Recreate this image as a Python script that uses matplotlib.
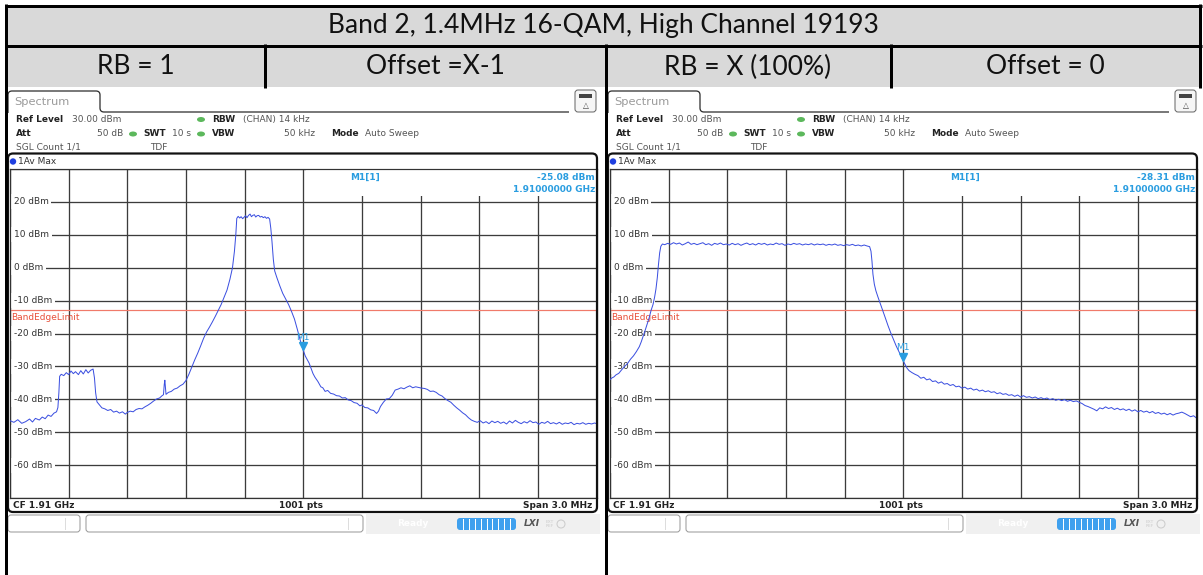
import matplotlib
matplotlib.use("Agg")
import matplotlib.pyplot as plt
import matplotlib.transforms as mtransforms
from matplotlib.patches import Rectangle, FancyBboxPatch, Ellipse, Circle, PathPatch
from matplotlib.path import Path

# ---------------------------------------------------------------- data
title = "Band 2, 1.4MHz 16-QAM, High Channel 19193"
column_headers = ["RB = 1", "Offset =X-1", "RB = X (100%)", "Offset = 0"]

level_ticks = [20, 10, 0, -10, -20, -30, -40, -50, -60]   # dBm labels
band_edge_limit = -13.0                                    # dBm
marker_levels = [-25.08, -28.31]                           # M1 readouts, dBm
marker_freq = "1.91000000 GHz"

# offset from CF 1.91 GHz in MHz, trace level in dBm  (RB = 1, offset X-1)
freq_rb1 = [
    -1.500, -1.480, -1.460, -1.440, -1.420, -1.400, -1.385, -1.370, -1.350, -1.335,
    -1.320, -1.305, -1.290, -1.275, -1.262, -1.255, -1.250, -1.246, -1.238, -1.225,
    -1.212, -1.200, -1.188, -1.176, -1.165, -1.150, -1.138, -1.125, -1.112, -1.100,
    -1.088, -1.075, -1.068, -1.062, -1.055, -1.045, -1.030, -1.015, -1.000, -0.985,
    -0.970, -0.955, -0.940, -0.925, -0.910, -0.900, -0.885, -0.870, -0.855, -0.840,
    -0.825, -0.810, -0.795, -0.780, -0.765, -0.750, -0.735, -0.722, -0.715, -0.711,
    -0.708, -0.705, -0.702, -0.690, -0.675, -0.660, -0.645, -0.630, -0.615, -0.600,
    -0.585, -0.570, -0.555, -0.540, -0.525, -0.510, -0.495, -0.480, -0.465, -0.450,
    -0.435, -0.420, -0.405, -0.390, -0.375, -0.362, -0.352, -0.345, -0.340, -0.333,
    -0.325, -0.318, -0.310, -0.302, -0.295, -0.288, -0.280, -0.272, -0.265, -0.258,
    -0.250, -0.243, -0.236, -0.228, -0.220, -0.212, -0.204, -0.196, -0.188, -0.180,
    -0.172, -0.166, -0.160, -0.153, -0.146, -0.135, -0.120, -0.105, -0.090, -0.075,
    -0.060, -0.045, -0.030, -0.018, -0.008, 0.000, 0.010, 0.020, 0.030, 0.040,
    0.050, 0.060, 0.075, 0.090, 0.100, 0.112, 0.125, 0.140, 0.155, 0.170,
    0.185, 0.200, 0.215, 0.230, 0.245, 0.260, 0.275, 0.290, 0.300, 0.315,
    0.330, 0.345, 0.360, 0.375, 0.385, 0.395, 0.410, 0.425, 0.440, 0.455,
    0.470, 0.485, 0.500, 0.515, 0.530, 0.545, 0.560, 0.575, 0.590, 0.605,
    0.620, 0.635, 0.650, 0.665, 0.680, 0.695, 0.710, 0.725, 0.740, 0.755,
    0.770, 0.785, 0.800, 0.815, 0.830, 0.845, 0.860, 0.875, 0.890, 0.905,
    0.920, 0.935, 0.950, 0.965, 0.980, 0.995, 1.010, 1.025, 1.040, 1.055,
    1.070, 1.085, 1.100, 1.115, 1.130, 1.145, 1.160, 1.175, 1.190, 1.205,
    1.220, 1.235, 1.250, 1.265, 1.280, 1.295, 1.310, 1.325, 1.340, 1.355,
    1.370, 1.385, 1.400, 1.415, 1.430, 1.445, 1.460, 1.475, 1.490, 1.500,
]
level_rb1 = [
    -46.5, -47.0, -46.2, -47.3, -46.8, -46.0, -46.9, -45.8, -46.3, -45.4,
    -45.9, -44.8, -45.2, -44.2, -43.8, -42.5, -38.0, -33.0, -32.4, -32.8,
    -31.9, -32.5, -31.4, -32.2, -31.6, -32.5, -31.3, -32.3, -31.0, -32.0,
    -31.2, -30.8, -33.5, -38.0, -40.8, -41.5, -42.6, -42.9, -43.4, -43.1,
    -43.9, -43.6, -44.2, -43.8, -44.5, -44.0, -43.6, -43.8, -43.1, -42.8,
    -42.9, -42.3, -41.8, -41.2, -40.5, -39.9, -39.6, -38.9, -38.6, -35.5,
    -34.2, -36.5, -38.5, -37.9, -37.6, -36.9, -36.6, -35.9, -35.4, -34.3,
    -32.4, -30.2, -28.0, -26.0, -23.8, -21.5, -19.6, -18.1, -16.5, -14.8,
    -13.0, -11.2, -9.0, -6.8, -3.5, 0.0, 5.0, 10.0, 15.0, 15.6,
    15.1, 15.5, 14.9, 15.4, 15.8, 15.2, 15.9, 16.3, 15.5, 15.9,
    16.1, 15.4, 15.8, 15.9, 15.4, 15.6, 15.2, 15.5, 15.0, 15.3,
    14.8, 12.0, 8.0, 2.5, -1.0, -3.0, -5.5, -7.8, -9.5, -11.2,
    -13.3, -15.6, -18.8, -21.5, -23.6, -25.08, -26.8, -27.9, -29.0, -30.6,
    -32.2, -33.3, -34.6, -36.2, -36.5, -37.6, -37.3, -38.2, -38.4, -38.9,
    -39.0, -39.6, -39.5, -40.2, -40.4, -41.0, -41.2, -42.0, -41.7, -42.5,
    -42.6, -43.2, -43.4, -44.3, -43.6, -42.2, -40.9, -39.9, -39.8, -38.8,
    -37.2, -36.9, -36.5, -36.8, -36.3, -35.9, -36.5, -36.2, -36.4, -36.6,
    -36.7, -37.0, -37.6, -37.5, -37.9, -38.6, -39.0, -39.8, -40.4, -40.9,
    -41.8, -42.6, -43.3, -44.1, -44.7, -45.6, -46.3, -46.7, -47.0, -46.5,
    -47.2, -46.8, -47.4, -46.6, -47.1, -46.7, -47.3, -46.9, -47.5, -46.6,
    -47.2, -46.4, -47.0, -47.4, -46.8, -47.2, -46.5, -47.1, -46.9, -47.6,
    -47.0, -47.3, -46.7, -47.4, -47.1, -47.5, -47.0, -47.6, -47.2, -47.4,
    -47.0, -47.7, -47.3, -47.5, -47.1, -47.6, -47.3, -47.5, -47.2, -47.4,
]

# offset from CF 1.91 GHz in MHz, trace level in dBm  (RB = X, offset 0)
freq_full = [
    -1.500, -1.490, -1.480, -1.470, -1.455, -1.440, -1.425, -1.410, -1.395, -1.380,
    -1.365, -1.350, -1.340, -1.330, -1.320, -1.310, -1.300, -1.290, -1.280, -1.272,
    -1.265, -1.258, -1.252, -1.246, -1.240, -1.232, -1.220, -1.205, -1.190, -1.175,
    -1.160, -1.145, -1.130, -1.115, -1.100, -1.085, -1.070, -1.055, -1.040, -1.025,
    -1.010, -0.995, -0.980, -0.965, -0.950, -0.935, -0.920, -0.905, -0.890, -0.875,
    -0.860, -0.845, -0.830, -0.815, -0.800, -0.785, -0.770, -0.755, -0.740, -0.725,
    -0.710, -0.695, -0.680, -0.665, -0.650, -0.635, -0.620, -0.605, -0.590, -0.575,
    -0.560, -0.545, -0.530, -0.515, -0.500, -0.485, -0.470, -0.455, -0.440, -0.425,
    -0.410, -0.395, -0.380, -0.365, -0.350, -0.335, -0.320, -0.305, -0.290, -0.275,
    -0.260, -0.245, -0.230, -0.215, -0.200, -0.185, -0.172, -0.165, -0.160, -0.155,
    -0.148, -0.140, -0.130, -0.118, -0.105, -0.092, -0.078, -0.064, -0.050, -0.036,
    -0.022, -0.010, 0.000, 0.010, 0.020, 0.030, 0.045, 0.060, 0.075, 0.090,
    0.105, 0.120, 0.135, 0.150, 0.165, 0.180, 0.195, 0.210, 0.225, 0.240,
    0.255, 0.270, 0.285, 0.300, 0.315, 0.330, 0.345, 0.360, 0.375, 0.390,
    0.405, 0.420, 0.435, 0.450, 0.465, 0.480, 0.495, 0.510, 0.525, 0.540,
    0.555, 0.570, 0.585, 0.600, 0.615, 0.630, 0.645, 0.660, 0.675, 0.690,
    0.705, 0.720, 0.735, 0.750, 0.765, 0.780, 0.795, 0.810, 0.825, 0.840,
    0.855, 0.870, 0.885, 0.900, 0.915, 0.930, 0.945, 0.960, 0.975, 0.990,
    1.005, 1.020, 1.035, 1.050, 1.065, 1.080, 1.095, 1.110, 1.125, 1.140,
    1.155, 1.170, 1.185, 1.200, 1.215, 1.230, 1.245, 1.260, 1.275, 1.290,
    1.305, 1.320, 1.335, 1.350, 1.365, 1.380, 1.395, 1.410, 1.425, 1.440,
    1.455, 1.470, 1.485, 1.500,
]
level_full = [
    -34.0, -33.5, -33.2, -32.6, -32.1, -31.0, -30.0, -29.1, -27.8, -26.8,
    -25.5, -24.0, -22.5, -20.8, -19.0, -17.2, -15.3, -13.0, -11.2, -9.0,
    -6.5, -3.0, 1.0, 4.5, 6.5, 7.2, 7.0, 7.4, 7.1, 7.6,
    7.2, 7.5, 6.9, 7.3, 7.8, 7.1, 7.4, 7.0, 7.3, 7.6,
    7.0, 7.3, 6.8, 7.4, 7.1, 7.5, 7.0, 7.2, 6.9, 7.4,
    7.0, 7.3, 6.8, 7.2, 7.5, 7.0, 7.3, 6.9, 7.4, 7.1,
    7.4, 6.9, 7.2, 7.0, 7.5, 7.1, 7.3, 6.8, 7.2, 7.0,
    7.4, 7.1, 7.3, 6.9, 7.2, 7.0, 7.3, 6.9, 7.2, 7.0,
    7.2, 6.8, 7.1, 6.9, 7.2, 6.8, 7.0, 6.7, 7.0, 6.8,
    7.1, 6.7, 6.9, 6.6, 6.9, 6.6, 6.4, 5.0, 2.0, -2.0,
    -5.0, -7.0, -8.8, -10.8, -13.0, -15.2, -17.6, -19.8, -21.8, -23.8,
    -25.5, -27.0, -28.31, -29.5, -30.6, -31.3, -31.9, -32.4, -32.8, -33.6,
    -33.3, -34.1, -33.8, -34.6, -34.4, -35.1, -34.7, -35.4, -35.2, -35.8,
    -35.5, -36.2, -36.0, -36.6, -36.3, -36.9, -36.6, -37.2, -36.9, -37.5,
    -37.2, -37.7, -37.4, -37.9, -37.7, -38.3, -38.0, -38.5, -38.3, -38.8,
    -38.6, -39.1, -38.7, -39.3, -38.9, -39.4, -39.2, -39.6, -39.3, -39.8,
    -39.5, -39.9, -39.6, -40.1, -39.8, -40.3, -40.0, -40.4, -40.1, -40.6,
    -40.3, -40.7, -40.5, -40.9, -41.3, -41.9, -42.2, -42.6, -43.0, -43.5,
    -42.6, -42.9, -42.3, -42.8, -42.5, -43.1, -42.7, -43.2, -42.9, -43.4,
    -43.0, -43.6, -43.2, -43.8, -43.4, -43.9, -43.6, -44.1, -43.7, -44.3,
    -44.0, -44.5, -44.2, -44.7, -44.3, -44.8, -44.4, -44.2, -43.9, -44.3,
    -44.8, -45.3, -45.0, -45.7,
]

# ---------------------------------------------------------------- figure
W, H = 1203, 575
fig = plt.figure(figsize=(W / 100, H / 100), dpi=100)

# background layer (pixel coordinates, y down)
cv = fig.add_axes([0, 0, 1, 1], zorder=0)
cv.set_xlim(0, W)
cv.set_ylim(H, 0)
cv.axis("off")

# overlay layer above the spectrum axes
ov = fig.add_axes([0, 0, 1, 1], zorder=5)
ov.set_xlim(0, W)
ov.set_ylim(H, 0)
ov.axis("off")
ov.patch.set_alpha(0)

PX = 0.72  # points per pixel at 100 dpi
MONO = "DejaVu Sans"
HDR = "Lato"

# ---------------------------------------------------------------- table header
GREY = "#d9d9d9"
cv.add_patch(Rectangle((6, 5), 1194, 40, fc=GREY, ec="none"))
cv.add_patch(Rectangle((6, 45), 1194, 42, fc=GREY, ec="none"))


def hline(y, x1, x2, w=3):
    ov.plot([x1, x2], [y, y], color="black", lw=w * PX, solid_capstyle="butt")


def vline(x, y1, y2, w=3):
    ov.plot([x, x], [y1, y2], color="black", lw=w * PX, solid_capstyle="butt")


hline(5.5, 4.5, 1201.5)
hline(45.5, 4.5, 1201.5)
vline(6, 4, 575)
vline(605.5, 44, 575)
vline(265, 44, 88)
vline(891, 44, 88)
vline(1200, 4, 88)

ov.text(603, 26, title, fontsize=19, family=HDR, ha="center", va="center", color="#111")
col_centers = [136, 435, 748, 1045]
for cx, label in zip(col_centers, column_headers):
    ov.text(cx, 67, label, fontsize=19, family=HDR, ha="center", va="center", color="#111")


# ---------------------------------------------------------------- analyser panel
def panel(x0, freqs, levels, m_level):
    txt = dict(fontsize=6.5, family=MONO, va="center")

    # tab
    verts = [(x0 + 8, 113), (x0 + 8, 95), (x0 + 8, 91), (x0 + 12, 91),
             (x0 + 96, 91), (x0 + 100, 91), (x0 + 100, 95), (x0 + 100, 108),
             (x0 + 100, 112), (x0 + 104, 112), (x0 + 569, 112)]
    codes = [Path.MOVETO, Path.LINETO, Path.CURVE3, Path.CURVE3, Path.LINETO,
             Path.CURVE3, Path.CURVE3, Path.LINETO, Path.CURVE3, Path.CURVE3, Path.LINETO]
    ov.add_patch(PathPatch(Path(verts, codes), fc="none", ec="#333", lw=1.3 * PX))
    ov.text(x0 + 14, 102, "Spectrum", fontsize=8.2, family=MONO, va="center", color="#9a9a9a")

    # display-config icon
    ov.add_patch(FancyBboxPatch((x0 + 575, 90), 21, 22, boxstyle="round,pad=0,rounding_size=3",
                                fc="#f6f6f6", ec="#666", lw=1 * PX))
    ov.add_patch(Rectangle((x0 + 579, 93.5), 13, 4, fc="#444", ec="none"))
    ov.text(x0 + 585.5, 105.5, "\u25b3", fontsize=5.5, family=MONO, ha="center", va="center", color="#444")

    # settings block
    dark, mid = "#222", "#555"
    ov.text(x0 + 16, 119.5, "Ref Level", fontweight="bold", color=dark, **txt)
    ov.text(x0 + 72, 119.5, "30.00 dBm", color=mid, **txt)
    ov.text(x0 + 212, 119.5, "RBW", fontweight="bold", color=dark, **txt)
    ov.text(x0 + 243, 119.5, "(CHAN) 14 kHz", color=mid, **txt)
    ov.text(x0 + 16, 134, "Att", fontweight="bold", color=dark, **txt)
    ov.text(x0 + 123, 134, "50 dB", color=mid, ha="right", **txt)
    ov.text(x0 + 143, 134, "SWT", fontweight="bold", color=dark, **txt)
    ov.text(x0 + 172, 134, "10 s", color=mid, **txt)
    ov.text(x0 + 212, 134, "VBW", fontweight="bold", color=dark, **txt)
    ov.text(x0 + 315, 134, "50 kHz", color=mid, ha="right", **txt)
    ov.text(x0 + 331, 134, "Mode", fontweight="bold", color=dark, **txt)
    ov.text(x0 + 365, 134, "Auto Sweep", color=mid, **txt)
    ov.text(x0 + 16, 147.3, "SGL Count 1/1", color=mid, **txt)
    ov.text(x0 + 150, 147.3, "TDF", color=mid, **txt)
    for ex, ey in [(x0 + 201, 119.5), (x0 + 133, 134), (x0 + 201, 134)]:
        ov.add_patch(Ellipse((ex, ey), 8, 5, fc="#5cb85c", ec="none"))

    # trace window frame
    ov.add_patch(FancyBboxPatch((x0 + 8, 153.5), 589, 358.5, boxstyle="round,pad=0,rounding_size=5",
                                fc="none", ec="#111", lw=2.2 * PX))
    ov.add_patch(Circle((x0 + 13, 161.5), 3.2, fc="#1f3fe0", ec="none"))
    ov.text(x0 + 18, 161.5, "1Av Max", color="#333", **txt)

    # footer of trace window
    ov.text(x0 + 13, 505, "CF 1.91 GHz", fontweight="bold", color=dark, **txt)
    ov.text(x0 + 301, 505, "1001 pts", fontweight="bold", color=dark, ha="center", **txt)
    ov.text(x0 + 592, 505, "Span 3.0 MHz", fontweight="bold", color=dark, ha="right", **txt)

    # marker readout
    blue = "#2a9de0"
    ov.text(x0 + 350, 177, "M1[1]", color=blue, fontweight="bold", **txt)
    ov.text(x0 + 595, 177, f"{m_level:.2f} dBm", color=blue, fontweight="bold", ha="right", **txt)
    ov.text(x0 + 595, 189.5, marker_freq, color=blue, fontweight="bold", ha="right", **txt)

    # status bar
    cv.add_patch(Rectangle((x0 + 366, 514), 234, 20, fc="#f0f0f0", ec="none"))
    for bx, bw, dv in [(x0 + 8, 72, x0 + 65), (x0 + 86, 277, x0 + 348)]:
        ov.add_patch(FancyBboxPatch((bx, 515), bw, 17, boxstyle="round,pad=0,rounding_size=3",
                                    fc="white", ec="#999", lw=1 * PX))
        ov.plot([dv, dv], [518, 529], color="#dddddd", lw=1 * PX)
    ov.text(x0 + 397, 523.5, "Ready", fontsize=6.5, family=MONO, fontweight="bold",
            va="center", color="white")
    ov.add_patch(FancyBboxPatch((x0 + 457, 518), 59, 12, boxstyle="round,pad=0,rounding_size=3",
                                fc="#3fa0ee", ec="none"))
    for k in range(1, 10):
        sx = x0 + 457 + k * 5.9
        ov.plot([sx, sx], [519, 529], color="white", lw=1 * PX)
    ov.text(x0 + 532, 524, "LXI", fontsize=6.5, family=MONO, fontweight="bold", style="italic",
            ha="center", va="center", color="#555")
    ov.text(x0 + 550, 524, "EXT\nREF", fontsize=3.2, family=MONO, ha="center", va="center",
            color="#cccccc", linespacing=0.9)
    ov.add_patch(Circle((x0 + 561, 524), 4, fc="none", ec="#cccccc", lw=1 * PX))

    # spectrum grid
    ax = fig.add_axes([(x0 + 10) / W, 1 - 498 / H, 586.5 / W, 329 / H], zorder=2)
    ax.set_xlim(-1.5, 1.5)
    ax.set_ylim(-70, 30)
    ax.set_xticks([-1.5 + 0.3 * k for k in range(11)])
    ax.set_yticks(list(range(-70, 31, 10)))
    ax.tick_params(length=0, labelleft=False, labelbottom=False)
    ax.set_axisbelow(True)
    ax.grid(True, color="#3c3c3c", lw=1.3 * PX)
    for s in ax.spines.values():
        s.set_color("#333")
        s.set_linewidth(1.2 * PX)

    # readout area hides the upper grid segment
    ax.add_patch(Rectangle((0.012, 21.8), 1.5, 8.2, fc="white", ec="none", zorder=1))

    ytr = ax.get_yaxis_transform()
    for v in level_ticks:
        ax.text(0.006, v, f"{v} dBm", transform=ytr, fontsize=6.5, family=MONO, color="#333",
                ha="left", va="center", zorder=1.5,
                bbox=dict(fc="white", ec="none", pad=2.2))

    ax.axhline(band_edge_limit, color="#f07a6a", lw=1.2 * PX, zorder=2)
    ax.text(0.0015, band_edge_limit - 2.2, "BandEdgeLimit", transform=ytr, fontsize=6.5,
            family=MONO, color="#e8503a", ha="left", va="center", zorder=2.2)

    ax.plot(freqs, levels, color="#3b4fe0", lw=1.0 * PX, zorder=3)

    shift = mtransforms.ScaledTranslation(0, 4 / 100, fig.dpi_scale_trans)
    ax.plot([0], [m_level], marker="v", ms=6, color=blue, mec=blue, zorder=4,
            transform=ax.transData + shift)
    ax.annotate("M1", (0, m_level), xytext=(0, 13), textcoords="offset pixels",
                fontsize=6.5, family=MONO, color=blue, ha="center", va="center", zorder=4)
    return ax


panel(0, freq_rb1, level_rb1, marker_levels[0])
panel(600, freq_full, level_full, marker_levels[1])

fig.savefig("out.png", dpi=100)
